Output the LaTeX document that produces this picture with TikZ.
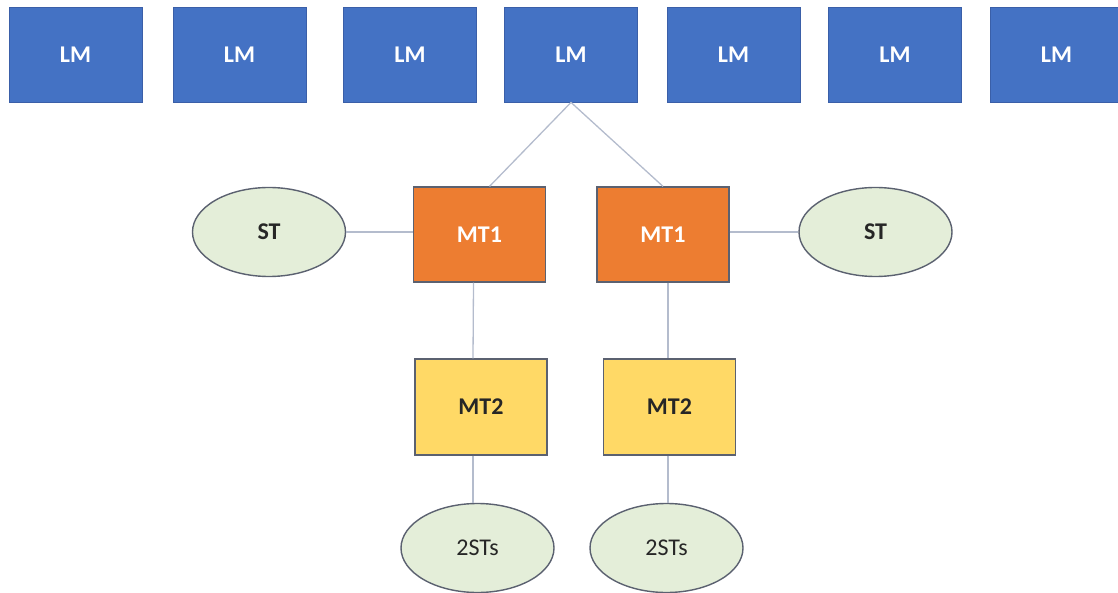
\documentclass[tikz,border=0pt]{standalone}
\usepackage{fontspec}
\setmainfont{Carlito}
\usetikzlibrary{shapes.geometric}
\definecolor{lmblue}{HTML}{4472C4}
\definecolor{lmedge}{HTML}{3A5FA8}
\definecolor{mtorange}{HTML}{ED7D31}
\definecolor{mtyellow}{HTML}{FFD966}
\definecolor{stfill}{HTML}{E4EED9}
\definecolor{boxedge}{HTML}{5B6170}
\definecolor{wire}{HTML}{B4BCCD}
\tikzset{
  lmbox/.style={rectangle, fill=lmblue, draw=lmedge, line width=0.8pt,
    minimum width=133pt, minimum height=95pt, inner sep=0pt,
    text=white, font=\fontsize{24}{28}\selectfont\bfseries},
  mtonebox/.style={rectangle, fill=mtorange, draw=boxedge, line width=1.2pt,
    minimum width=132pt, minimum height=95pt, inner sep=0pt,
    text=white, font=\fontsize{24}{28}\selectfont\bfseries},
  mttwobox/.style={rectangle, fill=mtyellow, draw=boxedge, line width=1.2pt,
    minimum width=132pt, minimum height=96pt, inner sep=0pt,
    text=black!85, font=\fontsize{24}{28}\selectfont\bfseries},
  stoval/.style={ellipse, fill=stfill, draw=boxedge, line width=1.4pt,
    minimum width=153pt, minimum height=89pt, inner sep=0pt,
    text=black!85, font=\fontsize{24}{28}\selectfont},
  wireline/.style={draw=wire, line width=1.3pt}
}
\begin{document}
\begin{tikzpicture}[x=1pt, y=-1pt]
  \useasboundingbox (0,0) rectangle (1118,593);
  % top row of LM blocks
  \node[lmbox] (lm1) at (75.5,54.5) {LM};
  \node[lmbox] (lm2) at (239.5,54.5) {LM};
  \node[lmbox] (lm3) at (410,54.5) {LM};
  \node[lmbox] (lm4) at (571,54.5) {LM};
  \node[lmbox] (lm5) at (733.5,54.5) {LM};
  \node[lmbox] (lm6) at (895,54.5) {LM};
  \node[lmbox] (lm7) at (1056.5,54.5) {LM};
  % first-level MT1 blocks
  \node[mtonebox] (mtl) at (479.5,234.5) {MT1};
  \node[mtonebox] (mtr) at (663,234.5) {MT1};
  % side ST ovals
  \node[stoval] (stl) at (269,232) {\textbf{ST}};
  \node[stoval] (str) at (875.5,232) {\textbf{ST}};
  % second-level MT2 blocks
  \node[mttwobox] (mbl) at (481,407) {MT2};
  \node[mttwobox] (mbr) at (669.5,407) {MT2};
  % bottom 2STs ovals
  \node[stoval] (bl) at (477.5,548) {2STs};
  \node[stoval] (br) at (666.5,548) {2STs};
  % connectors
  \draw[wireline] (lm4.south) -- ([xshift=10pt]mtl.north);
  \draw[wireline] (lm4.south) -- (mtr.north);
  \draw[wireline] (stl.east) -- (stl.east -| mtl.west);
  \draw[wireline] (str.west -| mtr.east) -- (str.west);
  \draw[wireline] ([xshift=-6pt]mtl.south) -- ([xshift=-8pt]mbl.north);
  \draw[wireline] ([xshift=5pt]mtr.south) -- ([xshift=-1.5pt]mbr.north);
  \draw[wireline] ([xshift=-8pt]mbl.south) -- ([xshift=-4.5pt]bl.north);
  \draw[wireline] ([xshift=-1.5pt]mbr.south) -- ([xshift=1.5pt]br.north);
\end{tikzpicture}
\end{document}
